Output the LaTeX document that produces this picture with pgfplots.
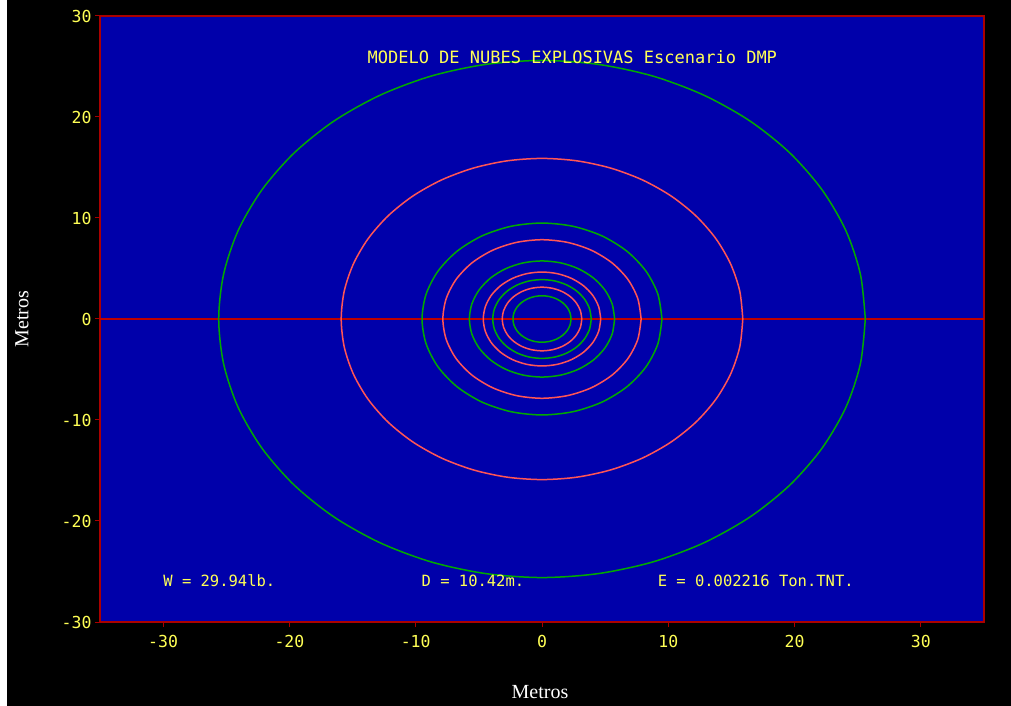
\documentclass[border=0pt]{standalone}
\usepackage{pgfplots}
\pgfplotsset{compat=1.18}
\usepackage{fontspec}
\setmainfont{DejaVu Sans Mono}
\newfontfamily\serifl{Liberation Serif}
\definecolor{egablue}{RGB}{0,0,170}
\definecolor{egared}{RGB}{170,0,0}
\definecolor{linered}{RGB}{190,0,0}
\definecolor{egagreen}{RGB}{0,170,0}
\definecolor{egapink}{RGB}{255,85,85}
\definecolor{egayellow}{RGB}{255,255,85}
\begin{document}
\begin{tikzpicture}
\useasboundingbox (-100pt,-84pt) rectangle (911pt,622pt);
\fill[black] (-100pt,-84pt) rectangle (911pt,622pt);
\fill[white] (-100pt,-84pt) rectangle (-93pt,622pt);
\begin{axis}[
  scale only axis,
  width=884pt, height=606pt,
  xmin=-35, xmax=35, ymin=-30, ymax=30,
  xtick={-30,-20,...,30}, ytick={-30,-20,...,30},
  xtick pos=left, ytick pos=left,
  tick align=outside, major tick length=5pt,
  tick style={color=egared, line width=1pt},
  axis line style={color=egared, line width=1.2pt},
  axis background/.style={fill=egablue},
  /pgf/number format/assume math mode=true,
  ticklabel style={font=\fontsize{16.5}{18}\selectfont, text=egayellow},
  xticklabel style={yshift=-5pt},
  yticklabel style={xshift=0pt},
  clip=true,
]
\addplot[linered, line width=1.6pt] coordinates {(-35,0) (35,0)};
% R = 25.6
\addplot[egagreen, line width=1.5pt, smooth] coordinates {
(25.6,0) (25.21,4.444) (24.06,8.755) (22.17,12.8) (19.61,16.46) (16.46,19.61) (12.8,22.17) (8.755,24.06) (4.444,25.21) (0,25.6)
(-4.444,25.21) (-8.755,24.06) (-12.8,22.17) (-16.46,19.61) (-19.61,16.46) (-22.17,12.8) (-24.06,8.755) (-25.21,4.444) (-25.6,0)
(-25.21,-4.444) (-24.06,-8.755) (-22.17,-12.8) (-19.61,-16.46) (-16.46,-19.61) (-12.8,-22.17) (-8.755,-24.06) (-4.444,-25.21) (0,-25.6)
(4.444,-25.21) (8.755,-24.06) (12.8,-22.17) (16.46,-19.61) (19.61,-16.46) (22.17,-12.8) (24.06,-8.755) (25.21,-4.444) (25.6,0)};
% R = 15.9
\addplot[egapink, line width=1.5pt, smooth] coordinates {
(15.9,0) (15.66,2.760) (14.94,5.438) (13.77,7.95) (12.18,10.22) (10.22,12.18) (7.95,13.77) (5.438,14.94) (2.760,15.66) (0,15.9)
(-2.760,15.66) (-5.438,14.94) (-7.95,13.77) (-10.22,12.18) (-12.18,10.22) (-13.77,7.95) (-14.94,5.438) (-15.66,2.760) (-15.9,0)
(-15.66,-2.760) (-14.94,-5.438) (-13.77,-7.95) (-12.18,-10.22) (-10.22,-12.18) (-7.95,-13.77) (-5.438,-14.94) (-2.760,-15.66) (0,-15.9)
(2.760,-15.66) (5.438,-14.94) (7.95,-13.77) (10.22,-12.18) (12.18,-10.22) (13.77,-7.95) (14.94,-5.438) (15.66,-2.760) (15.9,0)};
% R = 9.5
\addplot[egagreen, line width=1.5pt, smooth] coordinates {
(9.5,0) (9.176,2.459) (8.227,4.75) (6.717,6.717) (4.75,8.227) (2.459,9.176) (0,9.5)
(-2.459,9.176) (-4.75,8.227) (-6.717,6.717) (-8.227,4.75) (-9.176,2.459) (-9.5,0)
(-9.176,-2.459) (-8.227,-4.75) (-6.717,-6.717) (-4.75,-8.227) (-2.459,-9.176) (0,-9.5)
(2.459,-9.176) (4.75,-8.227) (6.717,-6.717) (8.227,-4.75) (9.176,-2.459) (9.5,0)};
% R = 7.85
\addplot[egapink, line width=1.5pt, smooth] coordinates {
(7.85,0) (7.582,2.032) (6.798,3.925) (5.551,5.551) (3.925,6.798) (2.032,7.582) (0,7.85)
(-2.032,7.582) (-3.925,6.798) (-5.551,5.551) (-6.798,3.925) (-7.582,2.032) (-7.85,0)
(-7.582,-2.032) (-6.798,-3.925) (-5.551,-5.551) (-3.925,-6.798) (-2.032,-7.582) (0,-7.85)
(2.032,-7.582) (3.925,-6.798) (5.551,-5.551) (6.798,-3.925) (7.582,-2.032) (7.85,0)};
% R = 5.75
\addplot[egagreen, line width=1.5pt, smooth] coordinates {
(5.75,0) (5.554,1.488) (4.980,2.875) (4.066,4.066) (2.875,4.980) (1.488,5.554) (0,5.75)
(-1.488,5.554) (-2.875,4.980) (-4.066,4.066) (-4.980,2.875) (-5.554,1.488) (-5.75,0)
(-5.554,-1.488) (-4.980,-2.875) (-4.066,-4.066) (-2.875,-4.980) (-1.488,-5.554) (0,-5.75)
(1.488,-5.554) (2.875,-4.980) (4.066,-4.066) (4.980,-2.875) (5.554,-1.488) (5.75,0)};
% R = 4.65
\addplot[egapink, line width=1.5pt, smooth] coordinates {
(4.65,0) (4.491,1.203) (4.027,2.325) (3.288,3.288) (2.325,4.027) (1.203,4.491) (0,4.65)
(-1.203,4.491) (-2.325,4.027) (-3.288,3.288) (-4.027,2.325) (-4.491,1.203) (-4.65,0)
(-4.491,-1.203) (-4.027,-2.325) (-3.288,-3.288) (-2.325,-4.027) (-1.203,-4.491) (0,-4.65)
(1.203,-4.491) (2.325,-4.027) (3.288,-3.288) (4.027,-2.325) (4.491,-1.203) (4.65,0)};
% R = 3.9
\addplot[egagreen, line width=1.5pt, smooth] coordinates {
(3.9,0) (3.767,1.009) (3.377,1.95) (2.758,2.758) (1.95,3.377) (1.009,3.767) (0,3.9)
(-1.009,3.767) (-1.95,3.377) (-2.758,2.758) (-3.377,1.95) (-3.767,1.009) (-3.9,0)
(-3.767,-1.009) (-3.377,-1.95) (-2.758,-2.758) (-1.95,-3.377) (-1.009,-3.767) (0,-3.9)
(1.009,-3.767) (1.95,-3.377) (2.758,-2.758) (3.377,-1.95) (3.767,-1.009) (3.9,0)};
% R = 3.15
\addplot[egapink, line width=1.5pt, smooth] coordinates {
(3.15,0) (3.043,0.815) (2.728,1.575) (2.227,2.227) (1.575,2.728) (0.815,3.043) (0,3.15)
(-0.815,3.043) (-1.575,2.728) (-2.227,2.227) (-2.728,1.575) (-3.043,0.815) (-3.15,0)
(-3.043,-0.815) (-2.728,-1.575) (-2.227,-2.227) (-1.575,-2.728) (-0.815,-3.043) (0,-3.15)
(0.815,-3.043) (1.575,-2.728) (2.227,-2.227) (2.728,-1.575) (3.043,-0.815) (3.15,0)};
% R = 2.3
\addplot[egagreen, line width=1.5pt, smooth] coordinates {
(2.3,0) (2.222,0.595) (1.992,1.15) (1.626,1.626) (1.15,1.992) (0.595,2.222) (0,2.3)
(-0.595,2.222) (-1.15,1.992) (-1.626,1.626) (-1.992,1.15) (-2.222,0.595) (-2.3,0)
(-2.222,-0.595) (-1.992,-1.15) (-1.626,-1.626) (-1.15,-1.992) (-0.595,-2.222) (0,-2.3)
(0.595,-2.222) (1.15,-1.992) (1.626,-1.626) (1.992,-1.15) (2.222,-0.595) (2.3,0)};
\node[text=egayellow, font=\fontsize{17}{20}\selectfont, anchor=center] at (axis cs:2.4,25.9) {MODELO DE NUBES EXPLOSIVAS Escenario DMP};
\node[text=egayellow, font=\fontsize{15.5}{18}\selectfont, anchor=west, inner sep=0pt] at (axis cs:-30,-25.9) {W = 29.94lb.};
\node[text=egayellow, font=\fontsize{15.5}{18}\selectfont, anchor=west, inner sep=0pt] at (axis cs:-9.55,-25.9) {D = 10.42m.};
\node[text=egayellow, font=\fontsize{15.5}{18}\selectfont, anchor=west, inner sep=0pt] at (axis cs:9.15,-25.9) {E = 0.002216 Ton.TNT.};
\end{axis}
\node[text=white, font=\serifl\fontsize{20}{22}\selectfont, anchor=center] at (440pt,-70pt) {Metros};
\node[text=white, font=\serifl\fontsize{20}{22}\selectfont, anchor=center, rotate=90] at (-78pt,303pt) {Metros};
\end{tikzpicture}
\end{document}
